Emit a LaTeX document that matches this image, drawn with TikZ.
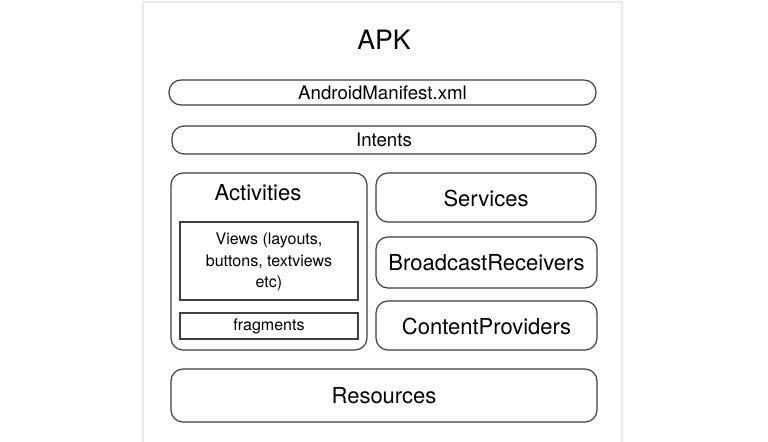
\documentclass[tikz,border=0pt]{standalone}
\usepackage{fontspec}
\setmainfont{TeX Gyre Heros}
\begin{document}
\begin{tikzpicture}[x=0.75pt,y=-0.75pt,
  pill/.style={draw=black!75,line width=0.9pt,rounded corners=9pt},
  rbox/.style={draw=black!75,line width=0.9pt,rounded corners=9pt},
  sbox/.style={draw=black!75,line width=0.9pt}]
\useasboundingbox (0,0) rectangle (768,442);
\fill[white] (0,0) rectangle (768,442);
\draw[black!8,line width=2pt] (143,443) -- (143,2) -- (622,2) -- (622,443);
\node[font=\fontsize{20}{22}\selectfont] (apk) at (384,40) {APK};
\draw[pill] (169,80) rectangle (596,105);
\node[font=\fontsize{14}{16}\selectfont] (man) at (382.5,92.5) {AndroidManifest.xml};
\draw[pill] (172,126) rectangle (596,154);
\node[font=\fontsize{14}{16}\selectfont] (int) at (384,140) {Intents};
\draw[rbox] (171,173) rectangle (367,350);
\node[font=\fontsize{16.5}{18}\selectfont] (act) at (258,193) {Activities};
\draw[sbox] (180,222) rectangle (358,300);
\node[align=center,font=\fontsize{12}{16}\selectfont] (views) at (269,262) {Views (layouts,\\ buttons, textviews\\ etc)};
\draw[sbox] (180,313) rectangle (358,339);
\node[font=\fontsize{12}{14}\selectfont] (frag) at (269,326) {fragments};
\draw[rbox] (376,173) rectangle (596,222);
\node[font=\fontsize{16.5}{18}\selectfont] (serv) at (486,198) {Services};
\draw[rbox] (376,237) rectangle (597,288);
\node[font=\fontsize{16.5}{18}\selectfont] (br) at (486.5,263) {BroadcastReceivers};
\draw[rbox] (376,301) rectangle (597,350);
\node[font=\fontsize{16.5}{18}\selectfont] (cp) at (486.5,326) {ContentProviders};
\draw[rbox] (171,369) rectangle (597,422);
\node[font=\fontsize{16.5}{18}\selectfont] (res) at (384,395.5) {Resources};
\end{tikzpicture}
\end{document}
